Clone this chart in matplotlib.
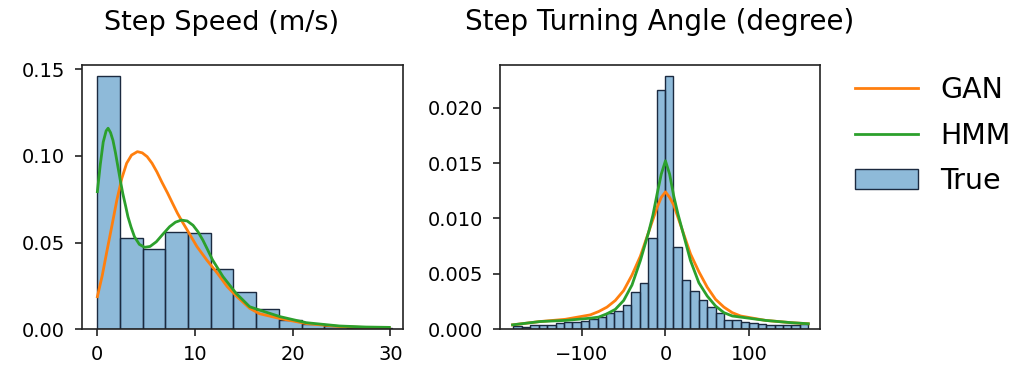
import numpy as np
import matplotlib
matplotlib.use("Agg")
import matplotlib.pyplot as plt
from matplotlib.patches import Patch
from matplotlib.lines import Line2D

# ---------------- data ----------------
# Step speed histogram (density), 13 bins from 0 to ~30.2
speed_edges = [0.0, 2.323, 4.646, 6.969, 9.292, 11.615, 13.938, 16.262,
               18.585, 20.908, 23.231, 25.554, 27.877, 30.2]
speed_true = [0.146, 0.0525, 0.0461, 0.0563, 0.0554, 0.0346, 0.0217,
              0.0115, 0.0054, 0.0030, 0.0018, 0.0010, 0.0006]

speed_gan_x = [0.0, 0.5, 1.0, 1.5, 2.0, 2.5, 3.0, 3.5, 4.1, 4.6, 5.1, 5.6, 6.1,
               6.6, 7.2, 7.7, 8.2, 8.7, 9.2, 9.7, 10.2, 11.2, 12.3, 13.3, 14.3,
               15.6, 16.6, 18.7, 21.4, 24.8, 27.5, 29.9]
speed_gan_y = [0.0188, 0.031, 0.0457, 0.060, 0.0746, 0.087, 0.0958, 0.1005, 0.1025,
               0.1018, 0.0996, 0.0958, 0.0908, 0.0850, 0.0785, 0.0727, 0.067, 0.062,
               0.0573, 0.0525, 0.0477, 0.040, 0.0323, 0.0246, 0.0188, 0.0121,
               0.0090, 0.0062, 0.0033, 0.0016, 0.0010, 0.0008]

speed_hmm_x = [0.0, 0.3, 0.6, 0.9, 1.1, 1.35, 1.6, 1.85, 2.1, 2.35, 2.6, 2.9, 3.13,
               3.45, 3.8, 4.3, 4.84, 5.4, 6.04, 6.7, 7.4, 8.0, 8.6, 9.2, 9.8, 10.3,
               10.8, 11.3, 11.8, 12.86, 14.2, 15.6, 16.6, 18.7, 21.4, 24.8, 27.5, 29.9]
speed_hmm_y = [0.0794, 0.095, 0.108, 0.1145, 0.116, 0.1135, 0.109, 0.102, 0.094,
               0.086, 0.0785, 0.071, 0.065, 0.059, 0.0534, 0.049, 0.0473, 0.0478,
               0.0505, 0.0548, 0.0592, 0.0618, 0.063, 0.0625, 0.060, 0.0563,
               0.0515, 0.0458, 0.040, 0.0304, 0.0208, 0.013, 0.0111, 0.0073,
               0.0038, 0.0019, 0.0013, 0.0011]

# Step turning angle histogram (density), 35 bins from -182 to 171
angle_edges = list(np.linspace(-182, 171, 36))
angle_true = [0.0003, 0.00024, 0.00039, 0.00042, 0.00039, 0.00054, 0.00066,
              0.0007, 0.00075, 0.0009, 0.00114, 0.00144, 0.00165, 0.0022,
              0.0034, 0.0042, 0.0082, 0.0216,
              0.0229, 0.00746, 0.00445, 0.00346, 0.00264, 0.00198, 0.00144,
              0.00084, 0.00084, 0.0007, 0.00054, 0.00045, 0.00039, 0.00039,
              0.00039, 0.00039, 0.0005]

angle_gan_x = [-183, -150, -120, -90, -80, -70, -60, -50, -40, -30, -20, -15,
               -10, -5, 0, 5, 10, 15, 20, 30, 40, 50, 60, 70, 80, 90, 120, 150, 171]
angle_gan_y = [0.0004, 0.0007, 0.0009, 0.0013, 0.0016, 0.0020, 0.0026, 0.0035,
               0.0049, 0.0066, 0.0088, 0.0099, 0.0110, 0.0119, 0.0124, 0.0119,
               0.0112, 0.0101, 0.0090, 0.0068, 0.0052, 0.0038, 0.0027, 0.0020,
               0.0015, 0.0012, 0.0008, 0.0006, 0.0005]

angle_hmm_x = [-183, -150, -120, -90, -80, -70, -60, -50, -40, -30, -20, -15,
               -10, -5, 0, 5, 10, 15, 20, 30, 40, 50, 60, 70, 80, 90, 120, 150, 171]
angle_hmm_y = [0.0004, 0.0007, 0.0008, 0.0010, 0.0011, 0.0014, 0.0018, 0.0026,
               0.0040, 0.0062, 0.0088, 0.0103, 0.0122, 0.0140, 0.0152, 0.0140,
               0.0120, 0.0104, 0.0090, 0.0062, 0.0042, 0.0030, 0.0021, 0.0015,
               0.0012, 0.0011, 0.0008, 0.0006, 0.0005]

labels = ["GAN", "HMM", "True"]

# ---------------- plot ----------------
BAR_FACE = (0.122, 0.467, 0.706, 0.5)
BAR_EDGE = "#1b2a40"
C_GAN = "#ff7f0e"
C_HMM = "#2ca02c"

fig = plt.figure(figsize=(10.19, 3.75), dpi=100)
ax1 = fig.add_axes([0.0802, 0.1219, 0.3153, 0.7048])
ax2 = fig.add_axes([0.4907, 0.1219, 0.3140, 0.7048])

def draw_hist(ax, edges, heights):
    edges = np.asarray(edges)
    ax.bar(edges[:-1], heights, width=np.diff(edges), align="edge",
           facecolor=BAR_FACE, edgecolor=BAR_EDGE, linewidth=1.0)

draw_hist(ax1, speed_edges, speed_true)
ax1.plot(speed_gan_x, speed_gan_y, color=C_GAN, lw=2)
ax1.plot(speed_hmm_x, speed_hmm_y, color=C_HMM, lw=2)
ax1.set_xlim(-1.6, 31.3)
ax1.set_ylim(0, 0.1525)
ax1.set_xticks([0, 10, 20, 30])
ax1.set_yticks([0.00, 0.05, 0.10, 0.15])
ax1.set_yticklabels(["0.00", "0.05", "0.10", "0.15"])
ax1.set_title("Step Speed (m/s)", fontsize=19.5, pad=25, x=0.434)

draw_hist(ax2, angle_edges, angle_true)
ax2.plot(angle_gan_x, angle_gan_y, color=C_GAN, lw=2)
ax2.plot(angle_hmm_x, angle_hmm_y, color=C_HMM, lw=2)
ax2.set_xlim(-198, 185)
ax2.set_ylim(0, 0.02385)
ax2.set_xticks([-100, 0, 100])
ax2.set_xticklabels(["\u2212100", "0", "100"])
ax2.set_yticks([0.0, 0.005, 0.010, 0.015, 0.020])
ax2.set_yticklabels(["0.000", "0.005", "0.010", "0.015", "0.020"])
ax2.set_title("Step Turning Angle (degree)", fontsize=20, pad=25)

for ax in (ax1, ax2):
    ax.tick_params(labelsize=14, length=4.8, width=1.2, color="#222222")
    ax.tick_params(axis="y", pad=7.5)
    ax.tick_params(axis="x", pad=6.5)
    for s in ax.spines.values():
        s.set_linewidth(1.2)
        s.set_color("#222222")

handles = [Line2D([0], [0], color=C_GAN, lw=2),
           Line2D([0], [0], color=C_HMM, lw=2),
           Patch(facecolor=BAR_FACE, edgecolor=BAR_EDGE, linewidth=1.0)]
fig.legend(handles, labels, loc="upper left", bbox_to_anchor=(0.814, 0.866),
           frameon=False, fontsize=20.5, handlelength=2.2, handletextpad=0.8,
           labelspacing=0.62)

fig.savefig("out.png", dpi=100)
